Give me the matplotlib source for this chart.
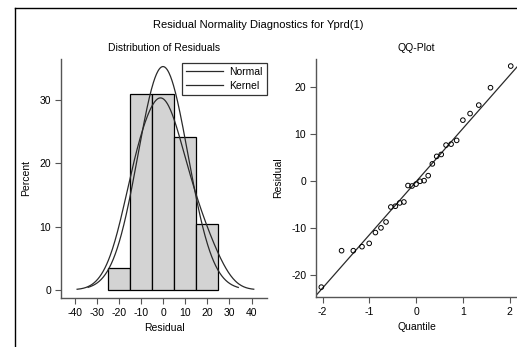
import numpy as np
import matplotlib
matplotlib.use("Agg")
import matplotlib.pyplot as plt
from matplotlib.lines import Line2D

plt.rcParams['font.family'] = ['Liberation Sans', 'DejaVu Sans']
plt.rcParams['axes.unicode_minus'] = False

# ---- data ----
quantiles = [-2.026, -1.593, -1.342, -1.156, -1.002, -0.869, -0.750, -0.642, -0.539,
             -0.442, -0.349, -0.260, -0.172, -0.086, 0.0, 0.086, 0.172, 0.260, 0.349,
             0.442, 0.539, 0.642, 0.750, 0.869, 1.002, 1.156, 1.342, 1.593, 2.026]
residuals = [-22.5, -14.75, -14.75, -13.9, -13.2, -10.9, -9.9, -8.65, -5.46,
             -5.3, -4.6, -4.4, -0.9, -1.0, -0.6, 0.0, 0.14, 1.2, 3.7,
             5.3, 5.7, 7.7, 7.9, 8.7, 13.0, 14.4, 16.2, 19.9, 24.5]
bin_edges = [-25, -15, -5, 5, 15, 25]
bin_percent = [3.45, 31.03, 31.03, 24.14, 10.34]
fit_mean = -0.1
fit_sd = 11.3
kernel_bw = 6.4
normal_range = (-34, 34)
kernel_range = (-39, 41)
xticks_hist = [-40, -30, -20, -10, 0, 10, 20, 30, 40]
yticks_hist = [0, 10, 20, 30]
xticks_qq = [-2, -1, 0, 1, 2]
yticks_qq = [-20, -10, 0, 10, 20]

W, H = 517, 347
fig = plt.figure(figsize=(W / 100, H / 100), dpi=100)

def ax_rect(l, t, r, b):
    return [l / W, 1 - b / H, (r - l) / W, (b - t) / H]

spine_col = '#555555'
curve_col = '#2a2a2a'
fs = 7.5

def style(ax):
    for s in ['top', 'right']:
        ax.spines[s].set_visible(False)
    for s in ['left', 'bottom']:
        ax.spines[s].set_color(spine_col)
        ax.spines[s].set_linewidth(1.0)
    ax.tick_params(direction='out', length=4, width=0.8, color=spine_col,
                   labelsize=fs, pad=3)

# ---- histogram ----
ax1 = fig.add_axes(ax_rect(61, 59, 267, 298))
style(ax1)
widths = np.diff(bin_edges)
ax1.bar(bin_edges[:-1], bin_percent, width=widths, align='edge',
        color='#d3d3d3', edgecolor='black', linewidth=0.9, zorder=1)
binw = widths[0]
xn = np.linspace(*normal_range, 300)
yn = 100 * binw * np.exp(-0.5 * ((xn - fit_mean) / fit_sd) ** 2) / (fit_sd * np.sqrt(2 * np.pi))
xk = np.linspace(*kernel_range, 300)
r = np.array(residuals)
yk = 100 * binw * np.mean(np.exp(-0.5 * ((xk[:, None] - r[None, :]) / kernel_bw) ** 2), axis=1) / (kernel_bw * np.sqrt(2 * np.pi))
l1, = ax1.plot(xn, yn, color=curve_col, lw=0.9, zorder=3)
l2, = ax1.plot(xk, yk, color=curve_col, lw=0.9, zorder=3)
ax1.set_xlim(-46.3, 47)
ax1.set_ylim(-1.3, 36.5)
ax1.set_xticks(xticks_hist)
ax1.set_yticks(yticks_hist)
ax1.set_xlabel('Residual', fontsize=fs, labelpad=4)
ax1.set_ylabel('Percent', fontsize=fs, labelpad=6)
ax1.set_title('Distribution of Residuals', fontsize=fs, pad=6)
leg = ax1.legend([l1, l2], ['Normal', 'Kernel'], loc='upper right',
                 bbox_to_anchor=(1.0, 0.985), fontsize=fs, frameon=True,
                 fancybox=False, edgecolor='black', borderpad=0.4,
                 labelspacing=0.4, handlelength=3.6, handletextpad=0.6,
                 borderaxespad=0.0)
leg.get_frame().set_linewidth(0.9)

# ---- QQ plot ----
ax2 = fig.add_axes(ax_rect(316, 59, 517, 297))
style(ax2)
xlim = (-2.14, 2.16)
ax2.set_xlim(*xlim)
ax2.set_ylim(-24.6, 26.0)
xl = np.array(xlim)
ax2.plot(xl, fit_mean + fit_sd * xl, color=curve_col, lw=0.9, clip_on=True)
ax2.scatter(quantiles, residuals, s=11, facecolors='none', edgecolors='black',
            linewidths=0.7, zorder=3, clip_on=False)
ax2.set_xticks(xticks_qq)
ax2.set_yticks(yticks_qq)
ax2.set_xlabel('Quantile', fontsize=fs, labelpad=4)
ax2.set_ylabel('Residual', fontsize=fs, labelpad=6)
ax2.set_title('QQ-Plot', fontsize=fs, pad=6)

fig.text(258 / W, 1 - 25 / H, 'Residual Normality Diagnostics for Yprd(1)',
         ha='center', va='center', fontsize=fs + 0.5)

# outer frame lines
fig.add_artist(Line2D([15 / W, 15 / W], [0, 1 - 8 / H], color='black', lw=1.0,
                      transform=fig.transFigure))
fig.add_artist(Line2D([15 / W, 1], [1 - 8 / H, 1 - 8 / H], color='black', lw=1.0,
                      transform=fig.transFigure))

fig.savefig('out.png', dpi=100)
